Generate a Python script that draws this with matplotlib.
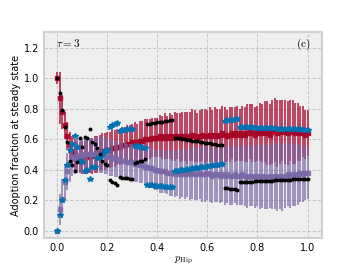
import numpy as np
import matplotlib
matplotlib.use('Agg')
import matplotlib.pyplot as plt

# Steady-state adoption fractions vs p_Hip (tau = 3)
p_hip = [
    0.00, 0.01, 0.02, 0.03, 0.04, 0.05, 0.06, 0.07, 0.08, 0.09,
    0.10, 0.11, 0.12, 0.13, 0.14, 0.15, 0.16, 0.17, 0.18, 0.19,
    0.20, 0.21, 0.22, 0.23, 0.24, 0.25, 0.26, 0.27, 0.28, 0.29,
    0.30, 0.31, 0.32, 0.33, 0.34, 0.35, 0.36, 0.37, 0.38, 0.39,
    0.40, 0.41, 0.42, 0.43, 0.44, 0.45, 0.46, 0.47, 0.48, 0.49,
    0.50, 0.51, 0.52, 0.53, 0.54, 0.55, 0.56, 0.57, 0.58, 0.59,
    0.60, 0.61, 0.62, 0.63, 0.64, 0.65, 0.66, 0.67, 0.68, 0.69,
    0.70, 0.71, 0.72, 0.73, 0.74, 0.75, 0.76, 0.77, 0.78, 0.79,
    0.80, 0.81, 0.82, 0.83, 0.84, 0.85, 0.86, 0.87, 0.88, 0.89,
    0.90, 0.91, 0.92, 0.93, 0.94, 0.95, 0.96, 0.97, 0.98, 0.99,
    1.00]

# simulation mean / std, first product (red)
red_mean = [
    1.00, 0.87, 0.78, 0.69, 0.62, 0.56, 0.52, 0.50, 0.49, 0.48,
    0.48, 0.48, 0.485, 0.49, 0.49, 0.50, 0.50, 0.51, 0.52, 0.52,
    0.53, 0.53, 0.54, 0.54, 0.55, 0.55, 0.56, 0.56, 0.57, 0.57,
    0.58, 0.58, 0.58, 0.59, 0.59, 0.60, 0.60, 0.60, 0.61, 0.61,
    0.61, 0.62, 0.61, 0.62, 0.61, 0.62, 0.61, 0.62, 0.62, 0.61,
    0.62, 0.62, 0.61, 0.62, 0.63, 0.62, 0.61, 0.62, 0.63, 0.62,
    0.62, 0.63, 0.62, 0.63, 0.62, 0.63, 0.64, 0.63, 0.62, 0.63,
    0.64, 0.63, 0.64, 0.63, 0.64, 0.63, 0.64, 0.65, 0.64, 0.63,
    0.64, 0.65, 0.64, 0.65, 0.64, 0.63, 0.65, 0.66, 0.64, 0.65,
    0.66, 0.65, 0.64, 0.66, 0.65, 0.64, 0.65, 0.64, 0.65, 0.63,
    0.64]
red_err = [
    0.04, 0.17, 0.11, 0.09, 0.09, 0.09, 0.10, 0.10, 0.10, 0.10,
    0.11, 0.11, 0.11, 0.11, 0.12, 0.12, 0.12, 0.12, 0.12, 0.12,
    0.12, 0.12, 0.12, 0.12, 0.12, 0.12, 0.12, 0.12, 0.12, 0.12,
    0.12, 0.13, 0.12, 0.13, 0.13, 0.13, 0.13, 0.13, 0.13, 0.13,
    0.13, 0.14, 0.14, 0.15, 0.14, 0.15, 0.15, 0.16, 0.15, 0.16,
    0.16, 0.16, 0.17, 0.16, 0.17, 0.17, 0.16, 0.17, 0.17, 0.18,
    0.17, 0.18, 0.17, 0.18, 0.18, 0.17, 0.18, 0.18, 0.17, 0.18,
    0.17, 0.18, 0.18, 0.17, 0.18, 0.18, 0.19, 0.18, 0.19, 0.18,
    0.18, 0.19, 0.19, 0.20, 0.21, 0.20, 0.21, 0.21, 0.22, 0.21,
    0.20, 0.21, 0.21, 0.20, 0.21, 0.20, 0.19, 0.18, 0.17, 0.16,
    0.15]

# simulation mean / std, second product (purple)
purple_mean = [
    0.00, 0.14, 0.21, 0.32, 0.39, 0.44, 0.47, 0.48, 0.49, 0.49,
    0.49, 0.50, 0.50, 0.50, 0.50, 0.50, 0.50, 0.50, 0.50, 0.49,
    0.49, 0.48, 0.48, 0.47, 0.47, 0.46, 0.46, 0.46, 0.45, 0.45,
    0.45, 0.44, 0.44, 0.43, 0.43, 0.42, 0.42, 0.41, 0.41, 0.40,
    0.40, 0.39, 0.39, 0.39, 0.38, 0.38, 0.38, 0.37, 0.38, 0.37,
    0.38, 0.37, 0.38, 0.37, 0.38, 0.37, 0.37, 0.38, 0.37, 0.37,
    0.38, 0.37, 0.36, 0.37, 0.37, 0.36, 0.37, 0.36, 0.37, 0.36,
    0.36, 0.37, 0.36, 0.36, 0.37, 0.36, 0.35, 0.36, 0.36, 0.35,
    0.36, 0.35, 0.36, 0.35, 0.35, 0.36, 0.35, 0.36, 0.35, 0.36,
    0.35, 0.36, 0.37, 0.36, 0.37, 0.36, 0.37, 0.38, 0.37, 0.38,
    0.38]
purple_err = [
    0.01, 0.10, 0.13, 0.12, 0.12, 0.12, 0.11, 0.11, 0.11, 0.11,
    0.11, 0.11, 0.11, 0.11, 0.11, 0.11, 0.11, 0.12, 0.12, 0.12,
    0.12, 0.12, 0.12, 0.12, 0.12, 0.12, 0.12, 0.12, 0.12, 0.12,
    0.12, 0.12, 0.12, 0.12, 0.12, 0.12, 0.13, 0.13, 0.13, 0.13,
    0.13, 0.14, 0.14, 0.14, 0.14, 0.15, 0.15, 0.15, 0.15, 0.16,
    0.16, 0.16, 0.16, 0.17, 0.17, 0.17, 0.17, 0.17, 0.18, 0.18,
    0.18, 0.18, 0.18, 0.18, 0.18, 0.18, 0.18, 0.19, 0.19, 0.19,
    0.19, 0.19, 0.19, 0.19, 0.20, 0.20, 0.20, 0.20, 0.20, 0.20,
    0.20, 0.21, 0.21, 0.21, 0.21, 0.21, 0.21, 0.22, 0.22, 0.22,
    0.22, 0.21, 0.21, 0.21, 0.21, 0.20, 0.20, 0.19, 0.18, 0.18,
    0.17]

# theory / fixed points (blue stars, black dots)
blue_star = [
    0.00, 0.10, 0.20, 0.33, 0.43, 0.53, 0.57, 0.62, 0.55, 0.46,
    0.45, 0.39, 0.40, 0.34, 0.42, 0.42, 0.475, 0.48, 0.50, 0.52,
    0.53, 0.68, 0.69, 0.70, 0.705, 0.656, 0.66, 0.662, 0.665, 0.667,
    0.67, 0.555, 0.553, 0.55, 0.548, 0.545, 0.30, 0.298, 0.297, 0.295,
    0.294, 0.292, 0.291, 0.289, 0.288, 0.286, 0.285, 0.390, 0.393, 0.395,
    0.398, 0.400, 0.403, 0.405, 0.408, 0.410, 0.413, 0.415, 0.418, 0.420,
    0.423, 0.425, 0.428, 0.430, 0.433, 0.436, 0.440, 0.720, 0.723, 0.726,
    0.729, 0.732, 0.735, 0.680, 0.679, 0.679, 0.678, 0.677, 0.677, 0.676,
    0.675, 0.675, 0.674, 0.673, 0.673, 0.672, 0.671, 0.671, 0.670, 0.669,
    0.669, 0.668, 0.667, 0.667, 0.666, 0.665, 0.665, 0.664, 0.663, 0.662,
    0.660]
black_dot = [
    1.00, 0.90, 0.79, 0.68, 0.58, 0.46, 0.43, 0.39, 0.45, 0.61,
    0.55, 0.617, 0.606, 0.665, 0.584, 0.57, 0.54, 0.50, 0.46, 0.44,
    0.43, 0.33, 0.32, 0.31, 0.30, 0.35, 0.348, 0.346, 0.344, 0.342,
    0.34, 0.445, 0.45, 0.455, 0.46, 0.47, 0.700, 0.703, 0.705, 0.708,
    0.710, 0.713, 0.715, 0.718, 0.720, 0.723, 0.725, 0.610, 0.607, 0.605,
    0.602, 0.599, 0.597, 0.594, 0.591, 0.589, 0.586, 0.583, 0.581, 0.578,
    0.575, 0.573, 0.570, 0.567, 0.565, 0.562, 0.560, 0.280, 0.278, 0.276,
    0.274, 0.272, 0.270, 0.318, 0.319, 0.320, 0.321, 0.321, 0.322, 0.323,
    0.324, 0.325, 0.326, 0.326, 0.327, 0.328, 0.329, 0.330, 0.331, 0.331,
    0.332, 0.333, 0.334, 0.335, 0.336, 0.336, 0.337, 0.338, 0.339, 0.340,
    0.340]

plt.style.use('bmh')
plt.rcParams['font.family'] = ['DejaVu Sans']
plt.rcParams['mathtext.fontset'] = 'cm'

fig = plt.figure(figsize=(3.57, 2.68), dpi=100)
ax = fig.add_axes([0.123, 0.112, 0.779, 0.769])

ax.errorbar(p_hip, red_mean, yerr=red_err, fmt='s', color='#A60628',
            ms=2.2, elinewidth=1.2, ecolor='#B0103A', alpha=0.9, zorder=2)
ax.errorbar(p_hip, purple_mean, yerr=purple_err, fmt='s', color='#7A68A6',
            ms=2.2, elinewidth=1.2, ecolor='#7A68A6', alpha=0.8, zorder=3)
ax.plot(p_hip, blue_star, '*', color='#0072B2', ms=4.2, zorder=4)
ax.plot(p_hip, black_dot, 'o', color='black', ms=1.8, zorder=5)

ax.set_xlim(-0.054, 1.058)
ax.set_ylim(-0.048, 1.304)
ax.set_xticks([0.0, 0.2, 0.4, 0.6, 0.8, 1.0])
ax.set_yticks([0.0, 0.2, 0.4, 0.6, 0.8, 1.0, 1.2])
ax.tick_params(labelsize=7, length=0)
ax.grid(True, linestyle='--', linewidth=0.7, color='#c4c4c4')
for s in ax.spines.values():
    s.set_color('#d0d0d0')
    s.set_linewidth(1.5)

ax.set_ylabel('Adoption fraction at steady state', fontsize=7, labelpad=2)
ax.set_xlabel(r'$p_{\rm Hip}$', fontsize=7.5, labelpad=1)
ax.text(0.045, 0.947, r'$\tau=3$', transform=ax.transAxes, fontsize=8,
        va='center', ha='left')
ax.text(0.957, 0.94, r'$\mathrm{(c)}$', transform=ax.transAxes, fontsize=8,
        va='center', ha='right')

fig.savefig('out.png', dpi=100)
